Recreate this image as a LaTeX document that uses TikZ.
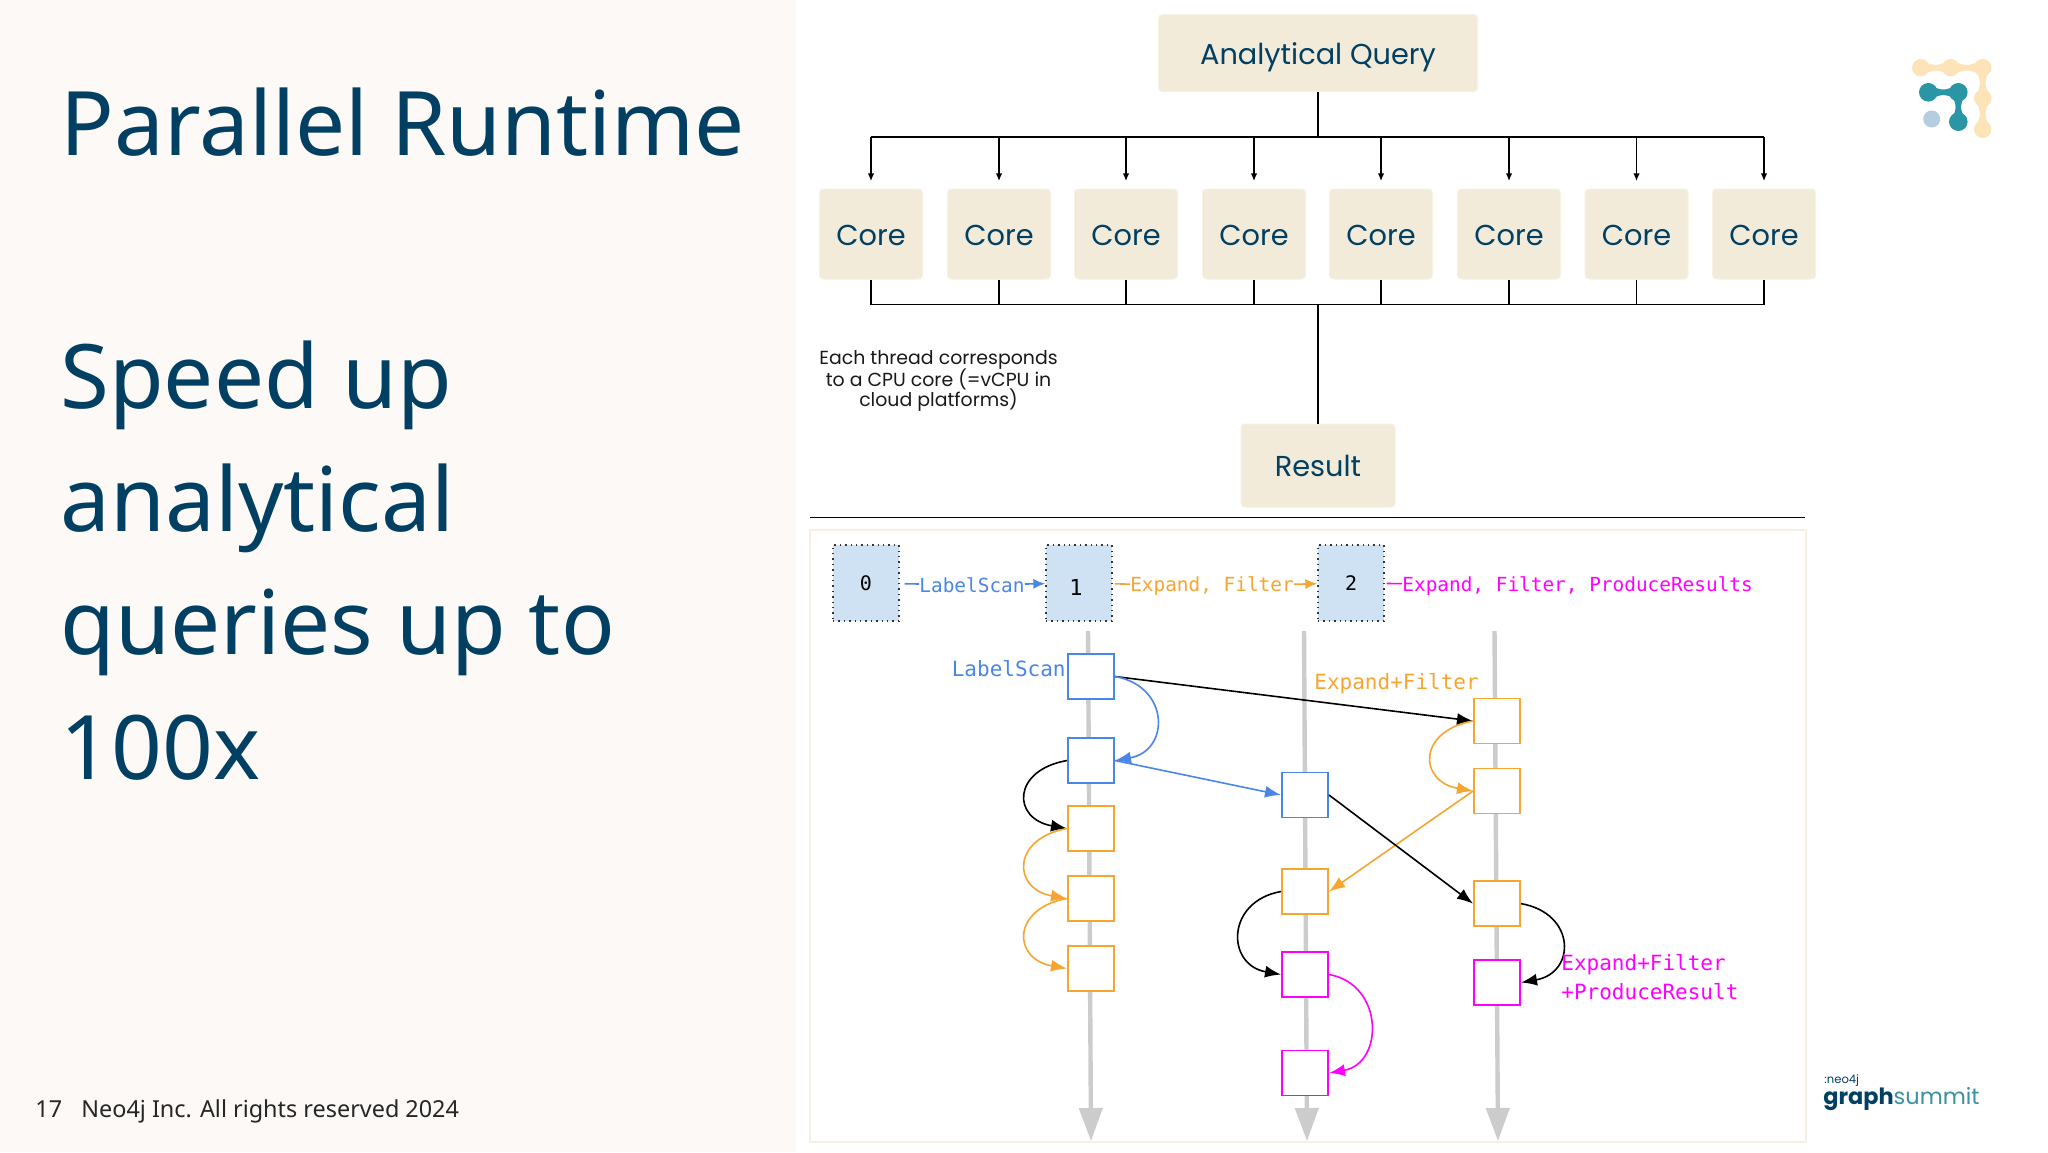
\documentclass[tikz,border=0pt]{standalone}
\usepackage{fontspec}
\usetikzlibrary{arrows.meta}
\setmainfont{Noto Sans}
\newfontfamily\boxf{Poppins}
\newfontfamily\monof{DejaVu Sans Mono}
\definecolor{panel}{HTML}{FCF9F6}
\definecolor{navy}{HTML}{014063}
\definecolor{cream}{HTML}{F2EBD9}
\definecolor{edgec}{HTML}{F6F1E4}
\definecolor{cellb}{HTML}{CFE2F3}
\definecolor{graylane}{HTML}{CCCCCC}
\definecolor{qblue}{HTML}{4A86E8}
\definecolor{qor}{HTML}{F6A530}
\definecolor{qmag}{HTML}{FF00FF}
\definecolor{lteal}{HTML}{2A95A5}
\definecolor{lcream}{HTML}{FCE3B8}
\definecolor{lblue}{HTML}{B5CDDF}
% waisted links between logo beads
\newcommand{\hwaist}[3]{\fill (#1,#3-7.5) .. controls ({(#1+#2)/2},#3-1.2) and ({(#1+#2)/2},#3-1.2) .. (#2,#3-7.5) -- (#2,#3+7.5) .. controls ({(#1+#2)/2},#3+1.2) and ({(#1+#2)/2},#3+1.2) .. (#1,#3+7.5) -- cycle;}
\newcommand{\vwaist}[3]{\fill (#1-7.5,#2) .. controls (#1-1.2,{(#2+#3)/2}) and (#1-1.2,{(#2+#3)/2}) .. (#1-7.5,#3) -- (#1+7.5,#3) .. controls (#1+1.2,{(#2+#3)/2}) and (#1+1.2,{(#2+#3)/2}) .. (#1+7.5,#2) -- cycle;}
\begin{document}
\begin{tikzpicture}[x=0.5pt,y=-0.5pt,
  title/.style={anchor=base west,inner sep=0,text=navy,font=\fontsize{44.5}{46}\selectfont},
  foot/.style={anchor=base west,inner sep=0,text=black!85,font=\fontsize{11.7}{14}\selectfont},
  box/.style={fill=cream,draw=edgec,line width=0.5pt,rounded corners=2pt,text=navy,font=\boxf\fontsize{14.4}{16}\selectfont,inner sep=0,text depth=0pt,text height=11pt},
  core/.style={box,minimum width=51.5pt,minimum height=45pt},
  wire/.style={black,line width=0.6pt},
  tip/.style={wire,-{Latex[length=3.8pt,width=3.2pt]}},
  cell/.style={fill=cellb,draw=black!80,dotted,line width=0.7pt,minimum width=33pt,minimum height=38pt,inner sep=0,font=\monof\fontsize{10}{12}\selectfont,text=black},
  toplab/.style={inner sep=0,font=\monof\fontsize{9.7}{12}\selectfont},
  lab/.style={inner sep=0,font=\monof\fontsize{10.5}{13}\selectfont},
  lane/.style={graylane,line width=2.2pt,-{Triangle[length=16.5pt,width=11.5pt]}},
  sq/.style={fill=white,draw=#1,line width=0.8pt,minimum width=23.2pt,minimum height=22.5pt,inner sep=0},
  arr/.style={#1,line width=0.8pt,-{Latex[length=8pt,width=6pt]}},
  loopw/.style={out=190,in=170,distance=28pt},
  loope/.style={out=-10,in=10,distance=28pt}]
\useasboundingbox (0,0) rectangle (2048,1152);
\fill[white] (0,0) rectangle (2048,1152);
\fill[panel] (0,0) rectangle (796,1152);
% left column
\node[title] (t1) at (60,155) {Parallel Runtime};
\node[title] (t2) at (60,408) {Speed up};
\node[title] (t3) at (60,531) {analytical};
\node[title] (t4) at (60,654) {queries up to};
\node[title] (t5) at (60,779) {100x};
\node[foot] (pg) at (35,1117) {17};
\node[foot] (cr) at (81,1117) {Neo4j Inc. All rights reserved 2024};
% thread fan out
\node[box,minimum width=159.5pt,minimum height=38.5pt] (q) at (1318,53) {Analytical Query};
\node[box,minimum width=77pt,minimum height=41.5pt] (res) at (1318,465.5) {Result};
\coordinate (topbus) at (1318,137);
\coordinate (botbus) at (1318,304.6);
\foreach \i/\x in {1/871,2/999,3/1126,4/1254,5/1381,6/1509,7/1636.5,8/1764}
  \node[core] (c\i) at (\x,234) {Core};
\draw[wire] (q) -- (topbus);
\draw[wire] (c1 |- topbus) -- (c8 |- topbus);
\draw[wire] (c1 |- botbus) -- (c8 |- botbus);
\draw[wire] (botbus) -- (res);
\foreach \i in {1,...,8} {
  \draw[tip,shorten >=3.75pt] (c\i |- topbus) -- (c\i);
  \draw[wire] (c\i) -- (c\i |- botbus);
}
\node[inner sep=0,align=center,text=black!90,font=\boxf\fontsize{9.45}{10.5}\selectfont] (note) at (938.5,381)
  {Each thread corresponds\\[-1.6pt]to a CPU core (=vCPU in\\[-1.6pt]cloud platforms)};
\coordinate (ruleL) at (810,517.6);
\coordinate (ruleR) at (1804.5,517.6);
\draw[black,line width=0.8pt] (ruleL) -- (ruleR);
% plan panel
\draw[edgec,line width=0.8pt] (810,530) rectangle (1806,1142);
\node[cell] (s0) at (866,583) {0};
\node[cell] (s1) at (1079,583) {};
\node[inner sep=0,font=\monof\fontsize{11}{12}\selectfont] (n1) at (1076,587) {1};
\node[cell] (s2) at (1351,583) {2};
\node[toplab,text=qblue] (lscan) at (972,585) {LabelScan};
\node[toplab,text=qor] (lexp) at (1212,586) {Expand, Filter};
\node[toplab,text=qmag,anchor=west] (lprod) at (1402,586) {Expand, Filter, ProduceResults};
\draw[qblue,line width=0.8pt,shorten <=2.5pt] (s0) -- (lscan);
\draw[qblue,line width=0.8pt,-{Latex[length=6pt,width=5pt]}] (lscan) -- (s1);
\draw[qor,line width=0.8pt,shorten <=1pt] (s1) -- (lexp);
\draw[qor,line width=0.8pt,-{Latex[length=6pt,width=5pt]}] (lexp) -- (s2);
\draw[qmag,line width=0.8pt,shorten <=1pt] (s2) -- (lprod);
% thread lanes
\foreach \n/\xa/\xb in {a/1088/1091,b/1304/1307,c/1494.5/1498} {
  \coordinate (\n top) at (\xa,631);
  \coordinate (\n end) at (\xb,1141);
  \draw[lane] (\n top) -- (\n end);
}
% morsels
\node[sq=qblue] (a1) at (1091,676.5) {};
\node[sq=qblue] (a2) at (1091,760.5) {};
\node[sq=qor] (a3) at (1091,828.5) {};
\node[sq=qor] (a4) at (1091,898.5) {};
\node[sq=qor] (a5) at (1091,968.5) {};
\node[sq=qblue] (b1) at (1305,795) {};
\node[sq=qor] (b2) at (1305,891.5) {};
\node[sq=qmag] (b3) at (1305,974.5) {};
\node[sq=qmag] (b4) at (1305,1073) {};
\node[sq=qor] (c1x) at (1497,721) {};
\node[sq=qor] (c2x) at (1497,791) {};
\node[sq=qor] (c3x) at (1497,903.6) {};
\node[sq=qmag] (c4x) at (1497,982.5) {};
\draw[arr=black] (a1.east) -- (c1x.west);
\draw[arr=qblue] (a1.east) to[loope] (a2.east);
\draw[arr=qblue] (a2.east) -- (b1.west);
\draw[arr=black] (a2.west) to[loopw] (a3.west);
\draw[arr=qor] (a3.west) to[loopw] (a4.west);
\draw[arr=qor] (a4.west) to[loopw] (a5.west);
\draw[arr=qor] (c1x.west) to[loopw] (c2x.west);
\draw[arr=qor] (c2x.west) -- (b2.east);
\draw[arr=black] (b1.east) -- (c3x.west);
\draw[arr=black] (c3x.east) to[loope] (c4x.east);
\draw[arr=black] (b2.west) to[loopw] (b3.west);
\draw[arr=qmag] (b3.east) to[loope] (b4.east);
\node[lab,text=qblue,anchor=east] (l1) at (1066,669) {LabelScan};
\node[lab,text=qor,anchor=west] (l2) at (1314,684) {Expand+Filter};
\node[lab,text=qmag,anchor=west] (l3) at (1561,965) {Expand+Filter};
\node[lab,text=qmag,anchor=west] (l4) at (1561,991.5) {+ProduceResult};
% logo
\begin{scope}[lcream]
  \hwaist{1920.7}{1950.7}{67.7}
  \hwaist{1950.7}{1982.7}{67.7}
  \vwaist{1982.7}{67.7}{98.3}
  \vwaist{1982.7}{98.3}{129.3}
\end{scope}
\foreach \x/\y in {1920.7/67.7,1950.7/67.7,1982.7/67.7,1982.7/98.3,1982.7/129.3}
  \fill[lcream] (\x,\y) circle (8.7);
\begin{scope}[lteal]
  \hwaist{1928.3}{1958.3}{92.3}
  \vwaist{1958.3}{92.3}{121.7}
\end{scope}
\foreach \x/\y in {1928.3/92.3,1958.3/92.3,1958.3/121.7}
  \fill[lteal] (\x,\y) circle (9.3);
\fill[lblue] (1931.7,119) circle (8.5);
\node[inner sep=0,anchor=base west,text=navy,font=\boxf\fontsize{5.8}{6}\selectfont] (neo) at (1824,1083) {:neo4j};
\node[inner sep=0,anchor=base west,font=\boxf\fontsize{11.2}{14}\selectfont] (gs) at (1823,1104)
  {\textcolor{navy}{\bfseries graph}\textcolor{lteal!80!gray}{summit}};
\end{tikzpicture}
\end{document}
